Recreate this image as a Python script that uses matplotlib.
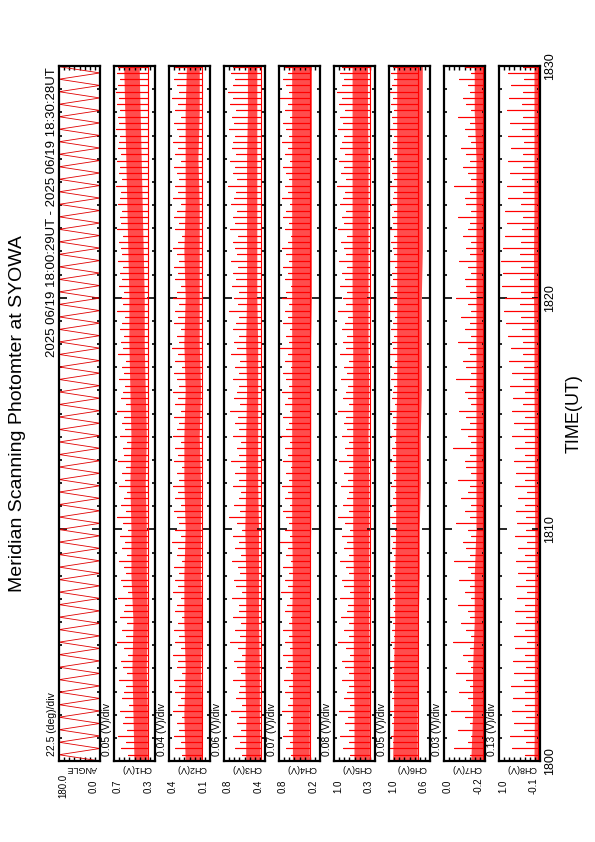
import matplotlib
matplotlib.use("Agg")
import matplotlib.pyplot as plt
from matplotlib.transforms import blended_transform_factory

plt.rcParams["font.family"] = ["Liberation Sans", "DejaVu Sans"]

# ---- data -----------------------------------------------------------------
# time in minutes after 18:00 UT; scan turning points of the photometer
t_turn = [
    0.00, 0.27, 0.54, 0.81, 1.08, 1.35, 1.62, 1.89, 2.16, 2.43, 2.70, 2.97, 3.24, 3.51,
    3.78, 4.05, 4.32, 4.59, 4.86, 5.13, 5.40, 5.67, 5.94, 6.21, 6.48, 6.75, 7.02, 7.29,
    7.56, 7.83, 8.10, 8.37, 8.64, 8.91, 9.18, 9.45, 9.72, 9.99, 10.26, 10.53, 10.80, 11.07,
    11.34, 11.61, 11.88, 12.15, 12.42, 12.69, 12.96, 13.23, 13.50, 13.77, 14.04, 14.31, 14.58, 14.85,
    15.12, 15.39, 15.66, 15.93, 16.20, 16.47, 16.74, 17.01, 17.28, 17.55, 17.82, 18.09, 18.36, 18.63,
    18.90, 19.17, 19.44, 19.71, 19.98, 20.25, 20.52, 20.79, 21.06, 21.33, 21.60, 21.87, 22.14, 22.41,
    22.68, 22.95, 23.22, 23.49, 23.76, 24.03, 24.30, 24.57, 24.84, 25.11, 25.38, 25.65, 25.92, 26.19,
    26.46, 26.73, 27.00, 27.27, 27.54, 27.81, 28.08, 28.35, 28.62, 28.89, 29.16, 29.43, 29.70, 29.97,
]
angle_turn = [
    0, 180, 0, 180, 0, 180, 0, 180, 0, 180, 0, 180, 0, 180,
    0, 180, 0, 180, 0, 180, 0, 180, 0, 180, 0, 180, 0, 180,
    0, 180, 0, 180, 0, 180, 0, 180, 0, 180, 0, 180, 0, 180,
    0, 180, 0, 180, 0, 180, 0, 180, 0, 180, 0, 180, 0, 180,
    0, 180, 0, 180, 0, 180, 0, 180, 0, 180, 0, 180, 0, 180,
    0, 180, 0, 180, 0, 180, 0, 180, 0, 180, 0, 180, 0, 180,
    0, 180, 0, 180, 0, 180, 0, 180, 0, 180, 0, 180, 0, 180,
    0, 180, 0, 180, 0, 180, 0, 180, 0, 180, 0, 180, 0, 180,
]

# band (dense part of each channel) read every 2 minutes
t_band = [0, 2, 4, 6, 8, 10, 12, 14, 16, 18, 20, 22, 24, 26, 28, 30]

ch1_lo = [.37, .37, .38, .37, .38, .38, .39, .38, .39, .40, .40, .41, .42, .43, .44, .45]
ch1_hi = [.50, .51, .52, .51, .53, .53, .54, .53, .54, .55, .55, .56, .57, .58, .59, .60]
ch2_lo = [.14, .14, .15, .14, .15, .15, .15, .16, .15, .16, .16, .16, .16, .17, .16, .16]
ch2_hi = [.27, .28, .27, .28, .28, .27, .28, .28, .27, .28, .27, .28, .27, .27, .27, .26]
ch3_lo = [.40, .41, .41, .42, .42, .42, .43, .43, .43, .43, .44, .44, .44, .44, .44, .44]
ch3_hi = [.57, .57, .58, .57, .57, .58, .57, .57, .56, .57, .56, .56, .56, .56, .55, .55]
ch4_lo = [.36, .36, .35, .35, .35, .34, .34, .34, .34, .34, .33, .33, .33, .33, .33, .33]
ch4_hi = [.59, .59, .59, .60, .59, .60, .60, .60, .60, .60, .60, .60, .60, .60, .60, .60]
ch5_lo = [.40, .40, .40, .41, .41, .41, .41, .42, .41, .42, .42, .42, .42, .42, .43, .43]
ch5_hi = [.64, .64, .65, .65, .65, .66, .66, .66, .66, .66, .67, .67, .67, .67, .67, .67]
ch6_lo = [.72, .72, .71, .71, .70, .70, .69, .69, .68, .68, .68, .67, .67, .67, .67, .67]
ch6_hi = [.96, .95, .95, .94, .94, .93, .93, .93, .92, .92, .92, .92, .92, .92, .92, .92]
ch7_lo = [-.21, -.21, -.21, -.21, -.21, -.21, -.21, -.21, -.21, -.21, -.21, -.21, -.21, -.21, -.21, -.21]
ch7_hi = [-.14, -.15, -.15, -.16, -.16, -.17, -.17, -.17, -.17, -.17, -.17, -.17, -.17, -.17, -.16, -.16]
ch8_lo = [-.03, -.03, -.03, -.03, -.03, -.03, -.03, -.03, -.03, -.03, -.03, -.03, -.03, -.03, -.03, -.03]
ch8_hi = [.06, .05, .05, .05, .04, .04, .05, .05, .06, .06, .07, .07, .06, .06, .06, .06]

# peak value reached once per scan
ch1_pk = [
    0.60, 0.56, 0.63, 0.58, 0.66, 0.57, 0.61, 0.59, 0.64, 0.55, 0.62, 0.60, 0.58, 0.65,
    0.57, 0.61, 0.63, 0.56, 0.60, 0.67, 0.58, 0.62, 0.57, 0.64, 0.60, 0.59, 0.66, 0.56,
    0.61, 0.63, 0.58, 0.60, 0.65, 0.57, 0.62, 0.59, 0.64, 0.56, 0.61, 0.67, 0.58, 0.63,
    0.60, 0.57, 0.65, 0.59, 0.62, 0.58, 0.66, 0.60, 0.61, 0.57, 0.64, 0.59, 0.62, 0.60,
    0.67, 0.58, 0.63, 0.61, 0.59, 0.65, 0.60, 0.62, 0.58, 0.66, 0.61, 0.63, 0.60, 0.64,
    0.62, 0.59, 0.67, 0.61, 0.63, 0.60, 0.65, 0.62, 0.64, 0.61, 0.66, 0.62, 0.63, 0.65,
    0.61, 0.67, 0.63, 0.64, 0.62, 0.66, 0.64, 0.63, 0.68, 0.62, 0.65, 0.64, 0.67, 0.63,
    0.66, 0.65, 0.64, 0.68, 0.65, 0.66, 0.64, 0.67, 0.65, 0.68, 0.66, 0.64, 0.67, 0.66,
]
ch2_pk = [
    0.33, 0.30, 0.35, 0.31, 0.36, 0.32, 0.34, 0.30, 0.37, 0.33, 0.31, 0.35, 0.32, 0.36,
    0.30, 0.34, 0.33, 0.37, 0.31, 0.35, 0.32, 0.36, 0.33, 0.30, 0.35, 0.34, 0.31, 0.37,
    0.33, 0.35, 0.32, 0.36, 0.30, 0.34, 0.33, 0.38, 0.31, 0.35, 0.32, 0.34, 0.36, 0.31,
    0.35, 0.33, 0.37, 0.32, 0.34, 0.30, 0.36, 0.33, 0.35, 0.31, 0.37, 0.34, 0.32, 0.36,
    0.31, 0.35, 0.33, 0.37, 0.32, 0.34, 0.36, 0.30, 0.35, 0.33, 0.38, 0.32, 0.34, 0.31,
    0.36, 0.33, 0.35, 0.32, 0.37, 0.34, 0.31, 0.35, 0.33, 0.36, 0.32, 0.34, 0.37, 0.33,
    0.30, 0.35, 0.32, 0.36, 0.34, 0.31, 0.37, 0.33, 0.35, 0.32, 0.34, 0.36, 0.31, 0.35,
    0.33, 0.37, 0.32, 0.34, 0.36, 0.31, 0.35, 0.33, 0.38, 0.32, 0.34, 0.36, 0.33, 0.35,
]
ch3_pk = [
    0.66, 0.62, 0.70, 0.64, 0.73, 0.63, 0.68, 0.65, 0.75, 0.62, 0.69, 0.66, 0.64, 0.72,
    0.63, 0.68, 0.71, 0.62, 0.67, 0.76, 0.64, 0.70, 0.63, 0.73, 0.66, 0.65, 0.74, 0.62,
    0.69, 0.71, 0.64, 0.67, 0.74, 0.63, 0.70, 0.65, 0.72, 0.62, 0.68, 0.77, 0.64, 0.71,
    0.66, 0.63, 0.73, 0.65, 0.70, 0.64, 0.75, 0.66, 0.68, 0.63, 0.72, 0.65, 0.70, 0.67,
    0.76, 0.64, 0.71, 0.68, 0.65, 0.73, 0.66, 0.70, 0.64, 0.75, 0.68, 0.71, 0.66, 0.72,
    0.69, 0.65, 0.77, 0.67, 0.71, 0.66, 0.74, 0.69, 0.72, 0.67, 0.75, 0.68, 0.70, 0.73,
    0.67, 0.76, 0.70, 0.72, 0.68, 0.75, 0.71, 0.69, 0.78, 0.68, 0.73, 0.70, 0.76, 0.69,
    0.74, 0.72, 0.70, 0.77, 0.71, 0.74, 0.69, 0.76, 0.72, 0.78, 0.73, 0.70, 0.75, 0.72,
]
ch4_pk = [
    0.65, 0.62, 0.69, 0.63, 0.72, 0.64, 0.67, 0.62, 0.74, 0.66, 0.63, 0.70, 0.64, 0.71,
    0.62, 0.68, 0.66, 0.73, 0.63, 0.70, 0.65, 0.72, 0.64, 0.62, 0.70, 0.67, 0.63, 0.75,
    0.66, 0.70, 0.64, 0.72, 0.62, 0.68, 0.66, 0.76, 0.63, 0.70, 0.65, 0.68, 0.73, 0.63,
    0.70, 0.66, 0.74, 0.64, 0.68, 0.62, 0.72, 0.66, 0.70, 0.63, 0.75, 0.68, 0.64, 0.72,
    0.63, 0.70, 0.66, 0.74, 0.64, 0.68, 0.72, 0.62, 0.70, 0.66, 0.76, 0.64, 0.68, 0.63,
    0.72, 0.66, 0.70, 0.64, 0.74, 0.68, 0.62, 0.70, 0.66, 0.72, 0.64, 0.68, 0.74, 0.66,
    0.62, 0.70, 0.64, 0.72, 0.68, 0.63, 0.74, 0.66, 0.70, 0.64, 0.68, 0.72, 0.63, 0.70,
    0.66, 0.74, 0.64, 0.68, 0.72, 0.63, 0.70, 0.66, 0.76, 0.64, 0.68, 0.72, 0.66, 0.70,
]
ch5_pk = [
    0.76, 0.71, 0.82, 0.73, 0.86, 0.72, 0.79, 0.74, 0.88, 0.71, 0.80, 0.76, 0.73, 0.84,
    0.72, 0.79, 0.83, 0.71, 0.77, 0.89, 0.73, 0.81, 0.72, 0.85, 0.76, 0.74, 0.87, 0.71,
    0.80, 0.83, 0.73, 0.77, 0.86, 0.72, 0.81, 0.75, 0.84, 0.71, 0.79, 0.90, 0.73, 0.82,
    0.76, 0.72, 0.85, 0.74, 0.81, 0.73, 0.88, 0.76, 0.79, 0.72, 0.84, 0.75, 0.81, 0.77,
    0.89, 0.73, 0.82, 0.78, 0.74, 0.85, 0.76, 0.81, 0.73, 0.87, 0.78, 0.82, 0.75, 0.84,
    0.79, 0.74, 0.90, 0.77, 0.82, 0.75, 0.86, 0.79, 0.84, 0.76, 0.88, 0.78, 0.81, 0.85,
    0.76, 0.89, 0.81, 0.84, 0.78, 0.87, 0.82, 0.79, 0.91, 0.77, 0.85, 0.80, 0.88, 0.79,
    0.86, 0.83, 0.80, 0.90, 0.82, 0.86, 0.79, 0.88, 0.83, 0.91, 0.84, 0.80, 0.87, 0.83,
]
ch6_pk = [
    0.97, 0.95, 0.99, 0.96, 0.98, 0.95, 0.97, 0.96, 0.99, 0.95, 0.97, 0.96, 0.95, 0.98,
    0.96, 0.97, 0.99, 0.95, 0.96, 0.98, 0.95, 0.97, 0.96, 0.99, 0.95, 0.96, 0.98, 0.95,
    0.97, 0.98, 0.95, 0.96, 0.99, 0.95, 0.97, 0.96, 0.98, 0.94, 0.97, 0.99, 0.95, 0.97,
    0.96, 0.94, 0.98, 0.95, 0.97, 0.95, 0.99, 0.96, 0.97, 0.94, 0.98, 0.95, 0.97, 0.96,
    0.99, 0.94, 0.97, 0.96, 0.95, 0.98, 0.95, 0.97, 0.94, 0.99, 0.96, 0.97, 0.95, 0.98,
    0.96, 0.94, 0.99, 0.95, 0.97, 0.95, 0.98, 0.96, 0.97, 0.94, 0.99, 0.95, 0.96, 0.98,
    0.95, 0.99, 0.96, 0.97, 0.95, 0.98, 0.96, 0.95, 0.99, 0.95, 0.97, 0.96, 0.98, 0.95,
    0.97, 0.96, 0.95, 0.99, 0.96, 0.97, 0.95, 0.98, 0.96, 0.99, 0.97, 0.95, 0.98, 0.96,
]
ch7_pk = [
    -0.08, -0.13, -0.04, -0.12, -0.14, -0.06, -0.13, -0.10, -0.02, -0.14, -0.12, -0.07, -0.13, -0.11,
    -0.05, -0.14, -0.12, -0.09, -0.13, -0.03, -0.14, -0.11, -0.08, -0.13, -0.12, -0.06, -0.14, -0.10,
    -0.13, -0.07, -0.14, -0.12, -0.04, -0.13, -0.11, -0.09, -0.14, -0.12, -0.05, -0.13, -0.10, -0.14,
    -0.08, -0.12, -0.13, -0.06, -0.14, -0.11, -0.10, -0.13, -0.03, -0.14, -0.12, -0.08, -0.13, -0.11,
    -0.07, -0.14, -0.12, -0.10, -0.13, -0.05, -0.14, -0.11, -0.09, -0.13, -0.12, -0.06, -0.14, -0.10,
    -0.13, -0.08, -0.14, -0.12, -0.05, -0.13, -0.11, -0.10, -0.14, -0.12, -0.07, -0.13, -0.11, -0.14,
    -0.09, -0.12, -0.13, -0.06, -0.14, -0.11, -0.10, -0.13, -0.04, -0.14, -0.12, -0.09, -0.13, -0.11,
    -0.08, -0.14, -0.12, -0.10, -0.13, -0.06, -0.14, -0.11, -0.09, -0.13, -0.12, -0.07, -0.14, -0.10,
]
ch8_pk = [
    0.66, 0.30, 0.62, 0.28, 0.68, 0.33, 0.58, 0.27, 0.64, 0.31, 0.60, 0.29, 0.66, 0.32,
    0.57, 0.28, 0.61, 0.30, 0.55, 0.26, 0.59, 0.29, 0.52, 0.27, 0.56, 0.30, 0.50, 0.25,
    0.54, 0.28, 0.48, 0.26, 0.52, 0.29, 0.47, 0.25, 0.55, 0.28, 0.50, 0.27, 0.53, 0.30,
    0.49, 0.26, 0.56, 0.30, 0.52, 0.28, 0.58, 0.31, 0.55, 0.29, 0.62, 0.33, 0.57, 0.30,
    0.64, 0.34, 0.60, 0.31, 0.67, 0.35, 0.63, 0.33, 0.70, 0.36, 0.66, 0.34, 0.74, 0.38,
    0.78, 0.40, 0.84, 0.42, 0.80, 0.39, 0.88, 0.44, 0.85, 0.41, 0.91, 0.43, 0.86, 0.40,
    0.82, 0.38, 0.76, 0.36, 0.80, 0.40, 0.72, 0.35, 0.75, 0.37, 0.68, 0.34, 0.72, 0.36,
    0.66, 0.33, 0.74, 0.37, 0.68, 0.34, 0.76, 0.38, 0.70, 0.35, 0.65, 0.32, 0.72, 0.36,
]

panel_names = ["ANGLE", "CH1(V)", "CH2(V)", "CH3(V)", "CH4(V)",
               "CH5(V)", "CH6(V)", "CH7(V)", "CH8(V)"]
panel_div = ["22.5 (deg)/div", "0.05 (V)/div", "0.04 (V)/div", "0.06 (V)/div",
             "0.07 (V)/div", "0.08 (V)/div", "0.05 (V)/div", "0.03 (V)/div",
             "0.13 (V)/div"]
panel_top = ["180.0", "0.7", "0.4", "0.8", "0.8", "1.0", "1.0", "0.0", "1.0"]
panel_bot = ["0.0", "0.3", "0.1", "0.4", "0.2", "0.3", "0.6", "-0.2", "-0.1"]
panel_range = [(0, 180), (0.30, 0.70), (0.08, 0.40), (0.35, 0.83), (0.22, 0.78),
               (0.32, 0.96), (0.60, 1.00), (-0.22, 0.02), (-0.08, 0.96)]

bands = [None, (ch1_lo, ch1_hi), (ch2_lo, ch2_hi), (ch3_lo, ch3_hi), (ch4_lo, ch4_hi),
         (ch5_lo, ch5_hi), (ch6_lo, ch6_hi), (ch7_lo, ch7_hi), (ch8_lo, ch8_hi)]
peaks = [None, ch1_pk, ch2_pk, ch3_pk, ch4_pk, ch5_pk, ch6_pk, ch7_pk, ch8_pk]

time_ticks = [0, 10, 20, 30]
time_labels = ["1800", "1810", "1820", "1830"]

# ---- figure (landscape plot drawn rotated on a portrait page) ---------------
W, H = 595, 842
fig = plt.figure(figsize=(W / 100, H / 100), dpi=100)

AX_TOP, AX_BOT = 66, 761
PW, PSTEP, PLEFT = 41, 55, 59
RED = "#ff0000"

for i in range(9):
    L = PLEFT + PSTEP * i
    ax = fig.add_axes([L / W, 1 - AX_BOT / H, PW / W, (AX_BOT - AX_TOP) / H])
    vmin, vmax = panel_range[i]
    ax.set_xlim(vmax, vmin)
    ax.set_ylim(0, 30)

    if i == 0:
        ax.plot(angle_turn, t_turn, color="#e00000", lw=0.6)
    else:
        lo, hi = bands[i]
        # dense noisy part of the signal
        ax.fill_betweenx(t_band, lo, hi, facecolor="#ff2020", alpha=0.8, lw=0)
        # one spike per scan, drawn as a comb: base -> peak -> base
        base = lo[0]
        xs, ys = [], []
        for t, p in zip(t_turn, peaks[i]):
            xs += [base, p, base]
            ys += [t, t, t]
        ax.plot(xs, ys, color=RED, lw=0.8)

    # time axis ticks (left/right edges)
    ax.set_yticks(time_ticks)
    ax.set_yticks(range(0, 31), minor=True)
    ax.tick_params(axis="y", which="both", direction="in", left=True, right=True,
                   labelleft=False, width=1.2)
    ax.tick_params(axis="y", which="major", length=6)
    ax.tick_params(axis="y", which="minor", length=2.5)
    # value axis ticks (top/bottom edges)
    step = (vmax - vmin) / 8
    ax.set_xticks([vmin + step * k for k in range(1, 8)])
    ax.tick_params(axis="x", direction="in", top=True, bottom=True,
                   labelbottom=False, length=3, width=1.0)
    for s in ax.spines.values():
        s.set_linewidth(1.6)

    # labels around each panel
    fig.text((L - 7) / W, 1 - 756 / H, panel_div[i], rotation=90,
             ha="center", va="bottom", fontsize=7.5)
    fig.text((L + PW / 2 + 2) / W, 1 - 769 / H, panel_names[i], rotation=180,
             ha="center", va="center", fontsize=6.5)
    fig.text((L + 4) / W, 1 - 786 / H, panel_top[i], rotation=90,
             ha="center", va="center", fontsize=7)
    fig.text((L + PW - 6) / W, 1 - 786 / H, panel_bot[i], rotation=90,
             ha="center", va="center", fontsize=7)

    if i == 8:
        tr = blended_transform_factory(ax.transAxes, ax.transData)
        for t, lab in zip(time_ticks, time_labels):
            ax.text(1 + 10 / PW, t, lab, transform=tr, rotation=90,
                    ha="center", va="center", fontsize=9)

fig.text(18 / W, 1 - 414 / H, "Meridian Scanning Photomter at SYOWA",
         rotation=90, ha="center", va="center", fontsize=14)
fig.text(52 / W, 1 - 67 / H, "2025 06/19 18:00:29UT - 2025 06/19 18:30:28UT",
         rotation=90, ha="center", va="top", fontsize=9.5)
fig.text(574 / W, 1 - 414 / H, "TIME(UT)", rotation=90,
         ha="center", va="center", fontsize=13)

fig.savefig("out.png", dpi=100)
